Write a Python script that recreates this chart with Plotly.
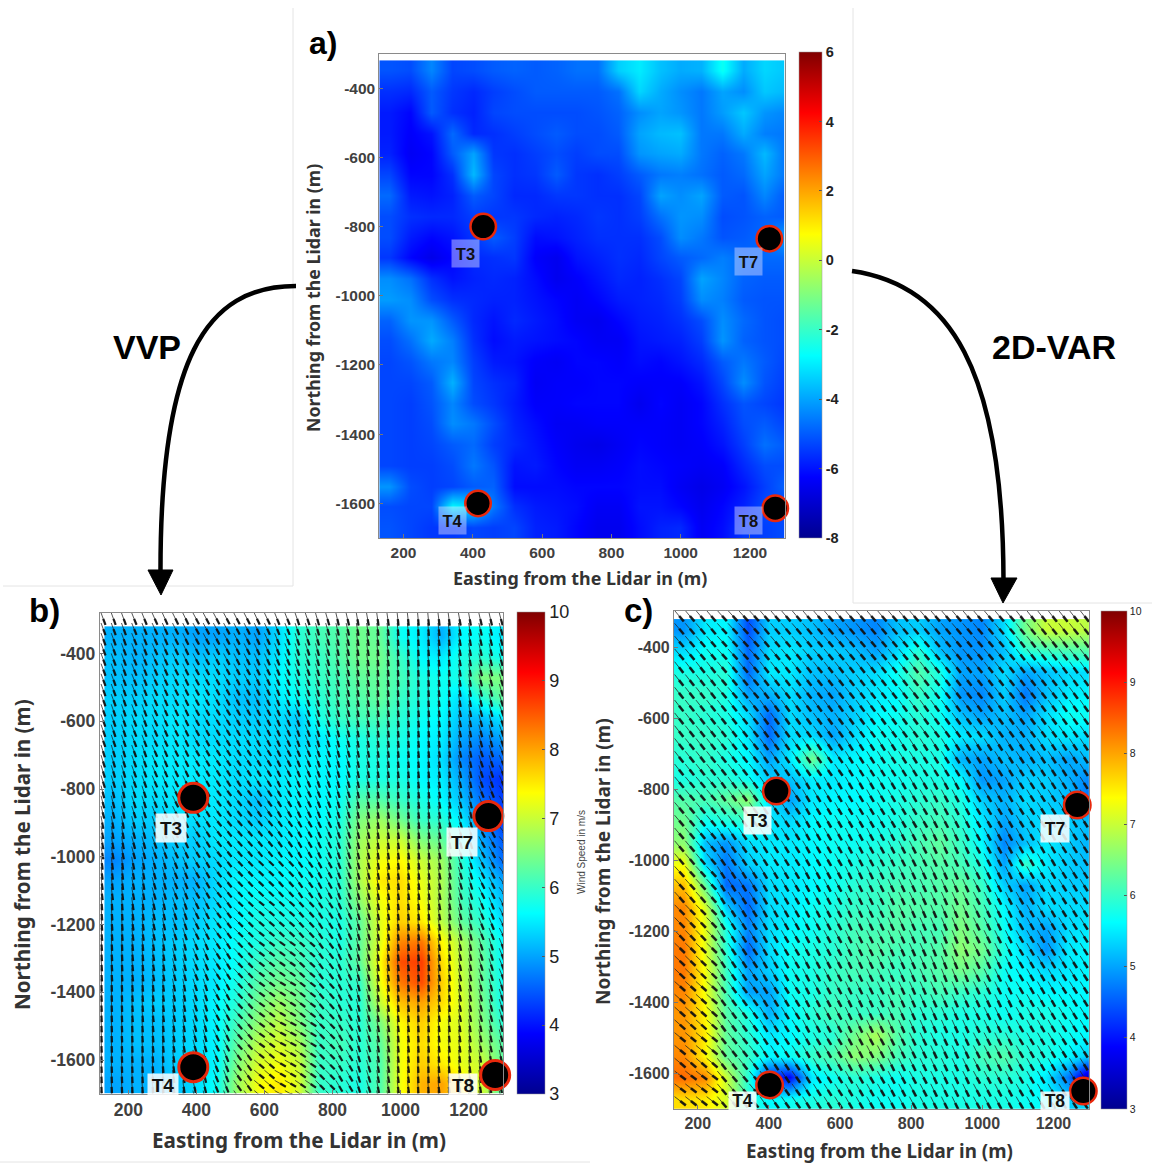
import numpy as np
import plotly.graph_objects as go

W, H = 1152, 1164

# ---------- data ----------
X_CENTRES = [160, 220, 280, 340, 400, 460, 520, 580, 640, 700, 760, 820, 880, 940, 1000, 1060, 1120, 1180, 1240, 1300]
Y_CENTRES = [-350, -410, -470, -530, -590, -650, -710, -770, -830, -890, -950, -1010, -1070, -1130, -1190, -1250,
             -1310, -1370, -1430, -1490, -1550, -1610, -1670]

RADIAL_A = [
 [-5.1,-5.2,-4.4,-5.3,-5.2,-5.0,-4.9,-5.0,-4.9,-4.7,-4.7,-3.4,-3.0,-3.6,-3.9,-3.8,-2.6,-3.9,-3.3,-3.5],
 [-5.6,-5.7,-5.0,-5.5,-5.7,-5.4,-5.2,-5.0,-5.0,-5.0,-5.0,-4.7,-3.3,-3.9,-4.3,-4.6,-4.0,-4.3,-3.5,-3.7],
 [-5.9,-6.2,-5.0,-5.6,-5.8,-5.3,-5.2,-5.2,-5.2,-5.2,-5.1,-4.9,-4.3,-4.0,-4.2,-4.6,-4.1,-3.5,-4.2,-4.4],
 [-5.9,-6.3,-6.0,-4.8,-5.7,-5.6,-5.4,-5.2,-5.0,-5.2,-5.2,-5.0,-4.0,-3.7,-3.6,-4.6,-4.6,-3.9,-4.5,-4.6],
 [-5.8,-6.4,-6.2,-5.0,-4.0,-5.5,-5.6,-5.4,-5.2,-5.4,-5.2,-5.2,-4.2,-4.0,-3.9,-4.6,-4.9,-4.6,-3.7,-4.6],
 [-5.3,-6.2,-6.2,-5.6,-3.7,-5.3,-5.6,-5.5,-5.0,-5.5,-5.6,-5.4,-5.0,-4.6,-4.5,-4.7,-5.0,-4.8,-4.0,-4.6],
 [-4.8,-5.9,-6.0,-5.8,-5.0,-5.3,-5.7,-5.7,-5.5,-5.5,-5.6,-5.6,-5.3,-4.0,-4.3,-4.0,-5.0,-5.1,-4.4,-5.0],
 [-5.2,-5.6,-5.7,-5.7,-5.4,-5.5,-5.5,-5.7,-5.8,-5.7,-5.5,-5.6,-5.4,-4.7,-4.2,-4.3,-5.2,-5.1,-4.9,-5.0],
 [-5.2,-5.9,-6.2,-6.0,-5.5,-5.0,-5.4,-6.1,-6.0,-5.8,-5.6,-5.6,-5.6,-5.2,-4.3,-4.6,-5.1,-5.0,-4.8,-4.0],
 [-5.5,-6.2,-6.6,-6.2,-5.7,-5.6,-5.5,-6.3,-6.5,-6.0,-5.8,-5.6,-5.7,-5.3,-5.0,-4.8,-4.5,-4.8,-4.8,-4.8],
 [-4.3,-4.7,-5.6,-6.0,-5.8,-5.7,-5.8,-6.1,-6.5,-6.3,-6.0,-5.7,-5.8,-5.6,-5.3,-4.0,-4.4,-4.9,-5.0,-5.0],
 [-4.1,-4.3,-5.2,-5.6,-5.7,-5.8,-5.8,-6.0,-6.2,-6.4,-6.2,-5.9,-5.8,-5.7,-5.4,-4.3,-4.5,-5.0,-5.1,-5.1],
 [-4.9,-4.2,-4.2,-5.0,-5.7,-6.0,-5.7,-5.9,-6.1,-6.4,-6.5,-6.2,-5.9,-5.8,-5.6,-5.2,-4.3,-4.8,-5.1,-5.2],
 [-5.2,-4.7,-3.9,-4.5,-5.6,-6.1,-5.9,-6.0,-6.1,-6.2,-6.4,-6.4,-6.0,-5.9,-5.8,-5.4,-4.2,-4.9,-5.1,-5.2],
 [-5.3,-5.1,-4.6,-4.4,-5.4,-5.9,-6.0,-6.3,-6.4,-6.2,-6.2,-6.3,-6.1,-6.2,-6.0,-5.7,-5.0,-4.6,-5.0,-5.3],
 [-5.3,-5.3,-5.0,-3.8,-5.3,-5.6,-5.8,-6.4,-6.3,-6.3,-6.2,-6.2,-6.3,-6.3,-6.3,-6.0,-5.3,-4.3,-5.1,-5.4],
 [-5.3,-5.4,-5.1,-4.4,-5.2,-5.5,-5.9,-6.3,-6.3,-6.2,-6.2,-6.2,-6.5,-6.2,-6.4,-6.2,-5.6,-5.1,-5.3,-5.5],
 [-5.3,-5.4,-5.2,-4.3,-4.6,-5.2,-5.8,-6.1,-6.4,-6.4,-6.3,-6.3,-6.3,-6.3,-6.4,-6.2,-5.8,-5.2,-5.0,-5.3],
 [-5.3,-5.4,-5.3,-5.0,-4.8,-5.4,-5.7,-6.0,-6.3,-6.5,-6.6,-6.4,-6.2,-6.3,-6.4,-6.3,-6.0,-5.4,-4.7,-5.0],
 [-5.3,-5.4,-5.4,-5.2,-4.6,-5.1,-6.0,-5.9,-6.2,-6.4,-6.4,-6.3,-6.1,-6.2,-6.3,-6.4,-6.3,-5.7,-5.2,-5.2],
 [-4.2,-5.2,-5.4,-5.3,-5.0,-4.9,-6.1,-6.1,-6.1,-6.2,-6.2,-6.2,-6.1,-6.1,-6.4,-6.6,-6.4,-6.0,-5.4,-4.9],
 [-5.2,-5.3,-5.3,-2.8,-3.3,-4.6,-5.6,-5.9,-6.0,-6.1,-6.4,-6.4,-6.0,-6.0,-6.2,-6.5,-6.2,-5.8,-5.2,-5.3],
 [-5.1,-5.3,-5.5,-5.5,-5.3,-5.4,-5.3,-5.8,-5.9,-6.2,-6.5,-6.5,-6.1,-5.8,-5.7,-6.4,-6.1,-5.5,-5.4,-5.2],
]

SPEED_B = [
 [5.1,5.1,5.1,5.1,5.0,5.0,5.1,5.0,5.4,5.9,6.1,6.2,6.4,6.3,5.7,5.5,5.1,5.6,5.7,5.5],
 [5.2,5.1,5.2,5.3,5.2,5.3,5.2,5.2,5.5,5.9,6.0,6.2,6.4,6.4,6.0,5.6,5.5,5.8,5.9,5.7],
 [5.2,5.2,5.3,5.4,5.4,5.4,5.3,5.3,5.6,5.8,6.0,6.1,6.3,6.3,6.1,5.8,5.7,5.8,6.5,6.5],
 [5.3,5.3,5.4,5.4,5.5,5.4,5.2,5.2,5.5,5.7,5.9,6.1,6.2,6.3,6.0,5.8,5.7,5.4,5.9,6.3],
 [5.3,5.4,5.4,5.5,5.4,5.4,5.3,5.3,5.4,5.3,5.8,6.0,6.1,6.1,5.9,5.7,5.6,5.2,5.2,5.5],
 [5.3,5.4,5.4,5.5,5.4,5.4,5.4,5.4,5.4,5.4,5.5,5.7,5.8,5.9,5.8,5.6,5.5,5.0,4.8,5.0],
 [5.3,5.4,5.5,5.5,5.5,5.5,5.4,5.4,5.4,5.5,5.6,5.6,5.8,5.8,5.7,5.6,5.4,4.8,4.5,4.6],
 [5.3,5.4,5.5,5.5,5.5,5.5,5.4,5.5,5.5,5.6,5.6,5.6,5.8,5.8,5.8,5.6,5.5,5.0,4.4,4.2],
 [5.2,5.4,5.4,5.5,5.5,5.5,5.4,5.2,5.5,5.6,5.6,5.7,6.2,6.2,6.0,5.8,5.6,5.2,4.6,4.3],
 [5.1,5.3,5.3,5.4,5.4,5.5,5.4,5.3,5.5,5.6,5.6,5.8,6.5,6.7,6.4,6.0,5.9,5.5,4.8,4.3],
 [5.0,5.1,5.2,5.3,5.3,5.5,5.5,5.5,5.5,5.6,5.7,5.9,6.7,7.0,7.0,6.5,6.3,5.7,5.0,4.5],
 [4.8,5.0,5.1,5.2,5.3,5.4,5.5,5.5,5.6,5.6,5.7,5.9,6.8,7.3,7.4,7.0,6.7,5.9,5.2,4.6],
 [5.0,5.1,5.1,5.1,5.1,5.4,5.6,5.6,5.6,5.7,5.7,5.9,6.8,7.5,7.6,7.2,6.8,6.0,5.5,5.0],
 [5.1,5.1,5.1,5.2,5.2,5.4,5.6,5.7,5.7,5.7,5.8,5.9,6.6,7.3,7.6,7.3,6.8,6.1,5.7,5.2],
 [5.1,5.1,5.2,5.2,5.3,5.5,5.6,5.8,5.8,5.8,5.8,5.8,6.3,7.2,7.7,7.5,6.9,6.3,5.9,5.4],
 [5.1,5.1,5.2,5.3,5.4,5.5,5.7,5.8,6.0,6.0,5.9,5.8,6.3,7.2,8.2,8.3,7.4,6.8,6.2,5.6],
 [5.1,5.1,5.2,5.3,5.4,5.5,5.7,6.0,6.2,6.1,5.9,5.9,6.3,7.4,8.6,8.7,7.6,6.9,6.3,5.6],
 [5.1,5.1,5.2,5.3,5.4,5.5,5.8,6.2,6.4,6.3,5.9,5.9,6.0,7.3,8.3,8.6,7.7,7.0,6.3,5.7],
 [5.1,5.2,5.3,5.3,5.4,5.6,5.9,6.4,6.7,6.4,6.0,5.9,5.9,7.0,7.8,8.0,7.6,7.1,6.4,5.7],
 [5.1,5.2,5.2,5.3,5.4,5.6,6.1,6.6,6.9,6.5,6.0,6.0,5.9,6.5,7.4,7.7,7.3,7.1,6.5,5.9],
 [5.1,5.2,5.2,5.3,5.4,5.6,6.3,6.9,7.1,6.8,6.0,6.1,5.9,6.3,7.3,7.6,7.3,7.2,6.7,6.2],
 [5.1,5.1,5.1,5.3,5.4,5.6,6.5,7.1,7.3,7.0,6.0,6.0,5.9,6.2,7.3,7.7,7.5,7.2,7.0,6.3],
 [5.0,5.1,5.1,5.2,5.4,5.7,6.7,7.3,7.5,7.1,6.0,5.9,5.8,6.2,7.3,7.9,8.0,7.5,7.0,6.2],
]

SPEED_C = [
 [4.9,5.5,5.6,4.4,5.3,5.3,5.2,5.0,4.9,4.8,5.2,5.3,5.0,4.9,4.8,5.4,6.4,7.0,7.0,6.9],
 [5.4,5.7,5.7,4.6,5.4,5.5,5.3,5.3,5.2,5.0,5.4,5.9,5.2,4.9,4.9,5.2,5.9,6.0,6.1,6.2],
 [5.8,5.8,5.9,4.6,5.5,5.5,5.2,5.2,5.3,5.4,5.7,6.2,5.8,5.0,5.0,5.4,5.0,5.2,5.4,5.4],
 [6.0,6.0,5.8,5.0,5.1,5.4,5.1,5.0,5.3,5.5,5.6,6.0,5.7,4.9,4.8,5.3,4.7,5.2,5.5,5.6],
 [6.0,5.9,5.8,5.4,4.6,5.4,5.2,5.1,5.3,5.6,5.7,5.9,5.7,5.2,5.0,5.2,5.0,5.4,5.7,5.7],
 [6.0,6.0,5.9,5.5,4.6,5.4,5.4,5.0,5.4,5.7,5.7,5.9,5.8,5.5,5.4,5.1,5.1,5.4,5.5,5.4],
 [5.9,6.0,5.8,5.6,5.0,5.5,6.4,5.5,5.6,5.7,5.8,5.8,5.8,5.1,5.0,5.2,5.1,5.2,5.0,5.2],
 [5.8,5.9,5.9,5.7,5.3,5.2,5.5,5.5,5.6,5.7,5.7,5.8,5.8,5.6,4.9,5.0,5.3,5.3,5.1,4.8],
 [6.2,6.1,6.3,6.6,5.4,5.0,5.5,5.6,5.6,5.7,5.8,5.9,6.0,5.8,5.3,5.1,5.4,5.3,5.2,4.6],
 [6.4,5.7,5.8,5.9,5.5,5.4,5.6,5.7,5.7,5.7,5.8,6.0,6.1,5.9,5.5,5.0,5.3,5.4,5.3,5.2],
 [6.6,5.2,4.9,5.4,5.5,5.5,5.6,5.7,5.7,5.8,5.9,6.1,6.3,6.0,5.6,4.8,5.2,5.5,5.3,5.1],
 [7.3,5.4,4.7,5.3,5.5,5.5,5.6,5.7,5.8,5.9,6.0,6.1,6.2,6.1,5.8,5.0,6.0,5.5,5.3,5.2],
 [7.8,6.3,4.6,4.7,5.4,5.5,5.6,5.7,5.9,6.0,6.1,6.1,6.2,6.3,6.0,5.3,5.0,5.4,5.3,5.3],
 [8.2,7.1,5.3,4.6,5.4,5.5,5.7,5.8,6.0,6.0,6.2,6.2,6.2,6.4,6.1,5.6,5.1,5.4,5.4,5.4],
 [8.2,7.2,5.8,4.8,5.4,5.6,5.7,5.9,6.1,6.1,6.2,6.1,6.1,6.5,6.2,5.7,5.2,5.0,5.4,5.5],
 [8.3,7.2,5.9,4.6,5.4,5.7,5.8,5.9,6.1,6.2,6.1,6.1,6.2,6.6,6.4,5.8,5.4,4.9,5.5,5.6],
 [8.3,7.3,6.0,5.0,5.3,5.7,5.8,6.0,6.1,6.1,6.0,6.1,6.2,6.4,6.2,5.7,5.6,5.4,5.5,5.6],
 [8.2,7.3,6.1,5.0,5.0,5.7,5.8,6.0,6.0,6.0,6.1,6.0,6.1,6.0,5.9,5.7,5.7,5.6,5.6,5.6],
 [8.1,7.4,6.2,5.8,5.1,5.6,5.9,6.1,6.0,6.0,6.1,5.9,5.9,5.8,5.8,5.7,5.8,5.8,5.7,5.6],
 [8.1,7.5,6.3,5.9,5.5,5.6,5.8,5.9,6.4,6.8,6.2,5.9,5.8,5.8,5.9,5.9,5.8,5.8,5.7,5.6],
 [8.2,7.4,6.3,6.0,5.6,5.7,6.0,6.2,6.6,6.5,6.1,5.9,5.9,5.8,6.1,6.2,5.9,5.8,5.6,5.3],
 [8.4,8.2,7.0,5.9,4.2,3.9,5.5,5.7,5.9,5.8,5.7,5.8,5.8,5.8,5.9,5.9,5.8,5.5,4.7,3.3],
 [7.6,7.5,7.1,5.9,5.6,5.7,5.8,5.9,5.8,5.7,5.7,5.8,5.8,5.8,5.8,5.8,5.7,5.6,5.3,5.4],
]

# wind direction, degrees from due south towards east
DIR_Y = [-360, -475, -590, -705, -820, -935, -1050, -1165, -1280, -1395, -1510, -1625]
DIR_B = [
 [20,22,24,26,28,28,27,25,22,19,16,13,10,8,6,5,7,10,13,15],
 [20,22,24,26,28,29,28,26,23,20,17,14,11,8,6,5,7,10,14,17],
 [19,21,24,26,29,31,30,28,25,21,18,15,11,9,7,6,8,11,15,20],
 [17,20,23,26,30,33,33,31,27,23,20,16,12,9,7,6,9,12,18,24],
 [14,18,22,26,31,36,37,34,30,26,22,17,12,9,7,7,10,14,22,32],
 [10,15,20,25,32,38,40,39,35,30,25,19,13,9,8,8,11,16,28,38],
 [7,11,16,22,30,38,43,46,42,35,28,21,14,10,8,8,11,16,26,35],
 [5,8,12,18,27,36,45,50,48,42,33,24,15,10,7,7,10,14,22,28],
 [4,6,9,14,22,32,43,52,54,48,36,24,14,9,7,6,9,12,17,22],
 [3,5,7,11,18,28,42,54,58,52,40,26,15,9,7,5,8,11,14,18],
 [3,4,6,9,15,26,40,54,62,58,44,30,17,10,7,5,7,9,12,15],
 [3,4,5,8,13,22,35,50,60,56,44,30,17,10,7,4,6,8,10,12],
]
DIR_C_X = [190, 310, 430, 550, 670, 790, 910, 1030, 1150, 1270]
DIR_C = [
 [40,42,40,40,40,40,40,40,38,38],
 [38,40,38,38,38,38,38,38,38,36],
 [38,38,36,36,36,36,36,36,36,35],
 [38,38,35,34,32,32,32,32,33,33],
 [40,36,34,30,30,30,28,30,32,32],
 [40,34,32,30,28,27,25,28,30,32],
 [42,32,30,28,26,25,24,27,30,32],
 [44,32,30,28,26,24,23,26,30,32],
 [46,34,30,28,26,24,22,26,30,32],
 [48,36,32,28,26,24,24,26,30,32],
 [50,38,33,30,28,26,25,27,30,32],
 [52,40,35,32,30,28,26,28,30,32],
]

TURBINES = ["T3", "T7", "T4", "T8"]
TURB_A_X = [430, 1256, 415, 1273]
TURB_A_Y = [-800, -835, -1600, -1614]
TURB_B_X = [391, 1258, 391, 1278]
TURB_B_Y = [-826, -880, -1621, -1644]
TURB_C_X = [421, 1267, 402, 1284]
TURB_C_Y = [-804, -843, -1631, -1648]

X_TICKS = [200, 400, 600, 800, 1000, 1200]
Y_TICKS = [-400, -600, -800, -1000, -1200, -1400, -1600]
CB_A_TICKS = [-8, -6, -4, -2, 0, 2, 4, 6]
CB_SPEED_TICKS = [3, 4, 5, 6, 7, 8, 9, 10]

JET = [[0, "#00008F"], [0.125, "#0000FF"], [0.375, "#00FFFF"], [0.625, "#FFFF00"], [0.875, "#FF0000"], [1, "#800000"]]
TICKC = "#404040"
SANS = "Liberation Sans, Arial, sans-serif"
TITLEF = "Noto Sans, sans-serif"


def px(x):
    return x / W


def py(y):
    return 1 - y / H


def arrows(xs, ys, table, dir_x, length):
    """Build quiver segments from the direction table, nearest entry lookup."""
    tx, ty, hx, hy = [], [], [], []
    t = np.radians(np.array(table, float))
    for y in ys:
        j = int(np.argmin(np.abs(np.array(DIR_Y) - y)))
        for x in xs:
            i = int(np.argmin(np.abs(np.array(dir_x) - x)))
            dx, dy = length * np.sin(t[j, i]), -length * np.cos(t[j, i])
            tx += [x, x + dx, None]
            ty += [y, y + dy, None]
            hx += [x + 0.5 * dx, x + dx, None]
            hy += [y + 0.5 * dy, y + dy, None]
    return tx, ty, hx, hy


fig = go.Figure()

PANELS = [
    dict(n="", z=RADIAL_A, zmin=-8, zmax=6, box=(379.3, 784.6, 53.5, 538), xr=(130, 1300), yr=(-1700, -300),
         cb=(799, 23, 52, 538), cbt=CB_A_TICKS, cbf=14.5, cbw=700, tick=15.5, tx=TURB_A_X, ty=TURB_A_Y, ms=25.5, ml=2.5),
    dict(n="2", z=SPEED_B, zmin=3, zmax=10, box=(99.7, 503, 612.5, 1093.6), xr=(116, 1301), yr=(-1699, -279),
         cb=(516.7, 28, 612, 1093.6), cbt=CB_SPEED_TICKS, cbf=18, cbw=400, tick=17.5, tx=TURB_B_X, ty=TURB_B_Y, ms=29, ml=3),
    dict(n="3", z=SPEED_C, zmin=3, zmax=10, box=(673.9, 1089, 610.9, 1108.7), xr=(133, 1300), yr=(-1698, -297),
         cb=(1100.8, 26, 610.9, 1108.7), cbt=CB_SPEED_TICKS, cbf=10.5, cbw=400, tick=16, tx=TURB_C_X, ty=TURB_C_Y, ms=26.5, ml=2.5),
]

for p in PANELS:
    xa, ya = "x" + p["n"], "y" + p["n"]
    cx, cw, ct, cb = p["cb"]
    fig.add_trace(go.Heatmap(
        x=X_CENTRES, y=Y_CENTRES, z=p["z"], zmin=p["zmin"], zmax=p["zmax"], colorscale=JET, xaxis=xa, yaxis=ya,
        zsmooth="best", hoverongaps=False,
        colorbar=dict(x=px(cx), xanchor="left", thickness=cw, thicknessmode="pixels",
                      y=py(ct), yanchor="top", len=(cb - ct) / H, lenmode="fraction", xpad=0, ypad=0,
                      tickvals=p["cbt"], ticktext=[str(v) for v in p["cbt"]], ticks="inside", ticklen=3,
                      tickcolor="#555", outlinecolor="#999", outlinewidth=0.5,
                      tickfont=dict(family=SANS, size=p["cbf"], color="#222", weight=p["cbw"]))))

# quivers
ARROW_X_B = np.arange(120, 1320, 30).tolist()
ARROW_Y_B = np.arange(-280, -1720, -30).tolist()
ARROW_X_C = np.arange(135, 1320, 30).tolist()
ARROW_Y_C = np.arange(-296, -1720, -36).tolist()
for xs, ys, tab, dx_, ln, hw, xa, ya in [(ARROW_X_B, ARROW_Y_B, DIR_B, X_CENTRES, 38, 2.3, "x2", "y2"),
                                         (ARROW_X_C, ARROW_Y_C, DIR_C, DIR_C_X, 40, 2.6, "x3", "y3")]:
    tx, ty, hx, hy = arrows(xs, ys, tab, dx_, ln)
    fig.add_trace(go.Scatter(x=tx, y=ty, mode="lines", line=dict(color="#222222", width=0.9), opacity=0.85, xaxis=xa, yaxis=ya, hoverinfo="skip"))
    fig.add_trace(go.Scatter(x=hx, y=hy, mode="lines", line=dict(color="#111111", width=hw), opacity=0.9, xaxis=xa, yaxis=ya, hoverinfo="skip"))

# turbines
for p in PANELS:
    fig.add_trace(go.Scatter(x=p["tx"], y=p["ty"], mode="markers", text=TURBINES, cliponaxis=False,
                             marker=dict(color="black", size=p["ms"], line=dict(color="#E8280C", width=p["ml"])),
                             xaxis="x" + p["n"], yaxis="y" + p["n"], hoverinfo="text"))

layout = dict(width=W, height=H, margin=dict(l=0, r=0, t=0, b=0), paper_bgcolor="white", plot_bgcolor="white", showlegend=False)
for p in PANELS:
    x0, x1, y0, y1 = p["box"]
    ax = dict(showgrid=False, zeroline=False, showline=True, mirror=True, linecolor="#8a8a8a", linewidth=1,
              ticks="inside", ticklen=4, tickcolor="#777", tickwidth=1,
              tickfont=dict(family=SANS, size=p["tick"], color=TICKC, weight=700))
    layout["xaxis" + p["n"]] = dict(ax, domain=[px(x0), px(x1)], range=list(p["xr"]), anchor="y" + p["n"],
                                    tickvals=X_TICKS, ticktext=[str(v) for v in X_TICKS])
    layout["yaxis" + p["n"]] = dict(ax, domain=[py(y1), py(y0)], range=list(p["yr"]), anchor="x" + p["n"],
                                    tickvals=Y_TICKS, ticktext=[str(v) for v in Y_TICKS])
fig.update_layout(**layout)


def text(x, y, s, size, color="black", weight=700, family=SANS, angle=0, **kw):
    fig.add_annotation(xref="paper", yref="paper", x=px(x), y=py(y), text=s, showarrow=False, textangle=angle,
                       xanchor="center", yanchor="middle", font=dict(family=family, size=size, color=color, weight=weight), **kw)


TITLE_X = "Easting from the Lidar in (m)"
TITLE_Y = "Northing from the Lidar in (m)"
TC = "#333333"
text(580, 578, TITLE_X, 17.9, TC, family=TITLEF)
text(313, 298, TITLE_Y, 17.8, TC, family=TITLEF, angle=-90)
text(299, 1140, TITLE_X, 20.7, TC, family=TITLEF)
text(22, 855, TITLE_Y, 20.6, TC, family=TITLEF, angle=-90)
text(879, 1151, TITLE_X, 18.8, TC, family=TITLEF)
text(603, 862, TITLE_Y, 19, TC, family=TITLEF, angle=-90)

text(323, 43, "a)", 32)
text(44, 610, "b)", 33)
text(638, 610, "c)", 33)
text(147, 347, "VVP", 34)
text(1054, 347, "2D-VAR", 34)
text(581, 852, "Wind Speed in m/s", 10, "#444", weight=400, angle=-90)

A_BG = "rgba(225,225,255,0.45)"
W_BG = "rgba(255,255,255,0.85)"
LABELS = [
    ("T3", 465, 253, 16.5, A_BG, 25, 25), ("T7", 748, 261, 16.5, A_BG, 25, 25),
    ("T4", 452, 520, 16.5, A_BG, 25, 25), ("T8", 748, 520, 16.5, A_BG, 25, 25),
    ("T3", 171, 828, 19, W_BG, 28, 26), ("T7", 462, 842, 19, W_BG, 28, 26),
    ("T4", 163, 1085, 19, W_BG, 28, 20), ("T8", 463, 1085, 19, W_BG, 26, 20),
    ("T3", 757, 820, 17.5, W_BG, 25, 25), ("T7", 1055, 828, 17.5, W_BG, 26, 25),
    ("T4", 742, 1101, 17.5, W_BG, 25, 16), ("T8", 1055, 1101, 17.5, W_BG, 26, 16),
]
for s, x, y, fs, bg, bw, bh in LABELS:
    text(x, y, s, fs, "#111", bgcolor=bg, width=bw, height=bh)

# page furniture (frames and flow arrows), in pixels of the page
FRAME = "#e4e4e4"
shapes = []
for a, b, c, d in [(293, 8, 293, 586), (3, 586, 293, 586), (853, 8, 853, 603), (853, 603, 1152, 603), (0, 1162, 590, 1162)]:
    shapes.append(dict(type="line", xref="paper", yref="paper", x0=px(a), y0=py(b), x1=px(c), y1=py(d), line=dict(color=FRAME, width=1), layer="below"))


def P(x, y):
    return f"{px(x):.5f},{py(y):.5f}"


shapes.append(dict(type="path", xref="paper", yref="paper", line=dict(color="black", width=4.5),
                   path=f"M {P(296,286)} C {P(205,286)} {P(160,360)} {P(160.5,573)}"))
shapes.append(dict(type="path", xref="paper", yref="paper", line=dict(color="black", width=1), fillcolor="black",
                   path=f"M {P(148,570)} L {P(173,570)} L {P(161,595)} Z"))
shapes.append(dict(type="path", xref="paper", yref="paper", line=dict(color="black", width=4.5),
                   path=f"M {P(852,271)} C {P(950,285)} {P(1003,370)} {P(1003.5,580)}"))
shapes.append(dict(type="path", xref="paper", yref="paper", line=dict(color="black", width=1), fillcolor="black",
                   path=f"M {P(991,578)} L {P(1017,578)} L {P(1003,603)} Z"))
fig.update_layout(shapes=shapes)

fig.write_html("out.html", config={"displayModeBar": False}, post_script="document.body.style.margin='0';")
